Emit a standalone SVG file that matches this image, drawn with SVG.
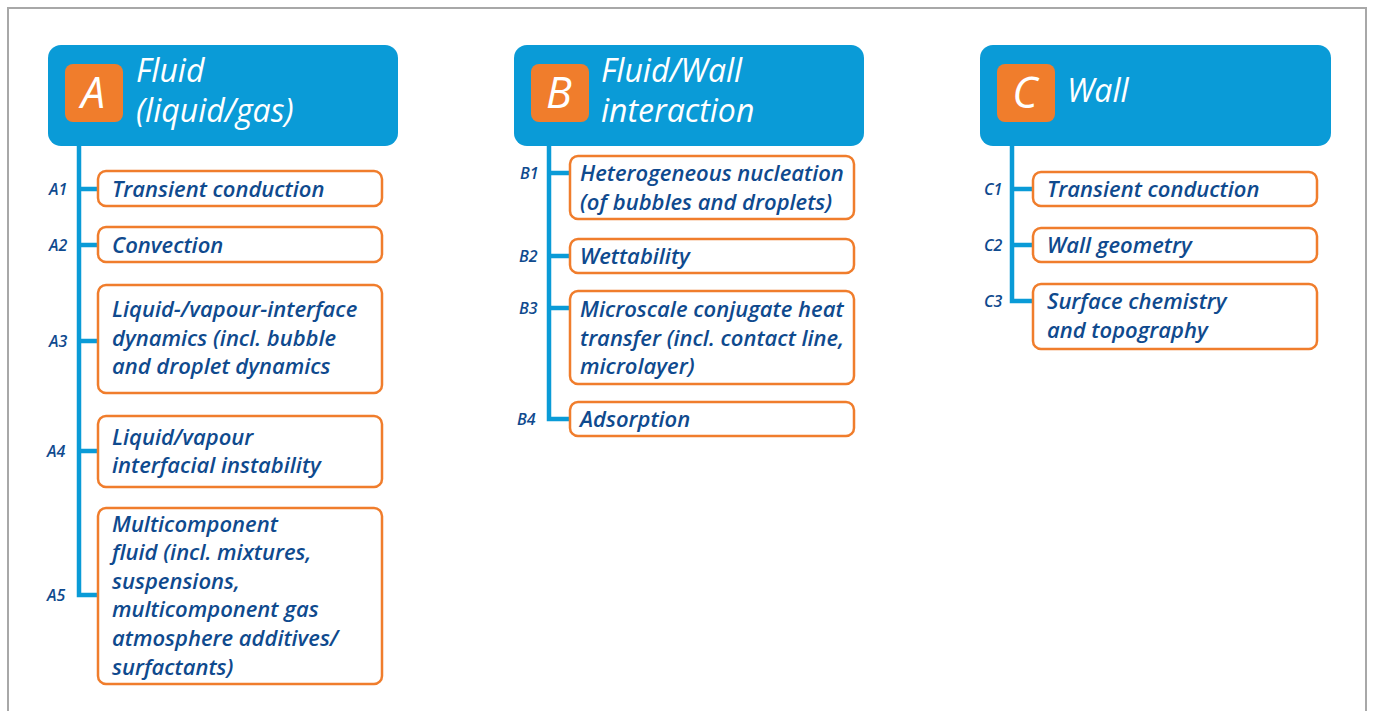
<svg xmlns="http://www.w3.org/2000/svg" width="1373" height="711" viewBox="0 0 1373 711">
  <style>
    .frame { fill: none; stroke: #a8a8a8; stroke-width: 2; }
    .head { fill: #0a9bd7; }
    .badge { fill: #f07d2c; }
    .badge-txt { font-family: "Open Sans", "Liberation Sans", sans-serif; font-style: italic; font-weight: 500; font-size: 43px; fill: #ffffff; text-anchor: middle; }
    .head-txt { font-family: "Open Sans", "Liberation Sans", sans-serif; font-style: italic; font-weight: 500; font-size: 32px; fill: #ffffff; }
    .box { fill: #ffffff; stroke: #f07d2c; stroke-width: 2.5; }
    .box-txt { font-family: "Open Sans", "Liberation Sans", sans-serif; font-style: italic; font-weight: 600; font-size: 22px; fill: #0f4a8e; }
    .tag { font-family: "Open Sans", "Liberation Sans", sans-serif; font-style: italic; font-weight: 600; font-size: 16px; fill: #0f4a8e; }
    .link { fill: none; stroke: #0a9bd7; stroke-width: 4.5; stroke-linejoin: miter; }
  </style>

  <!-- outer frame, open at the bottom -->
  <path class="frame" d="M8,711 V8 H1366 V711"/>

  <!-- tree connectors -->
  <g id="connectors">
    <path class="link" d="M79,145 V595 H100"/>
    <path class="link" d="M79,189 H100 M79,245 H100 M79,341 H100 M79,451 H100"/>
    <path class="link" d="M549,145 V419 H572"/>
    <path class="link" d="M549,173 H572 M549,256 H572 M549,308 H572"/>
    <path class="link" d="M1012,145 V301 H1035"/>
    <path class="link" d="M1012,189 H1035 M1012,245 H1035"/>
  </g>

  <!-- column A -->
  <g id="A">
    <rect class="head" x="48" y="45" width="350" height="101" rx="13"/>
    <rect class="badge" x="65" y="64" width="58" height="58" rx="8"/>
    <text class="badge-txt" x="93" y="108">A</text>
    <text class="head-txt" x="136" y="82">Fluid</text>
    <text class="head-txt" x="136" y="122">(liquid/gas)</text>
  </g>
  <g id="A1">
    <text class="tag" x="49" y="195">A1</text>
    <rect class="box" x="98" y="171" width="284" height="35" rx="8"/>
    <text class="box-txt" x="112" y="197">Transient conduction</text>
  </g>
  <g id="A2">
    <text class="tag" x="49" y="251">A2</text>
    <rect class="box" x="98" y="227" width="284" height="35" rx="8"/>
    <text class="box-txt" x="112" y="253">Convection</text>
  </g>
  <g id="A3">
    <text class="tag" x="49" y="347">A3</text>
    <rect class="box" x="98" y="285" width="284" height="108" rx="8"/>
    <text class="box-txt" x="112" y="317">Liquid-/vapour-interface</text>
    <text class="box-txt" x="112" y="346">dynamics (incl. bubble</text>
    <text class="box-txt" x="112" y="374">and droplet dynamics</text>
  </g>
  <g id="A4">
    <text class="tag" x="47" y="457">A4</text>
    <rect class="box" x="98" y="416" width="284" height="71" rx="8"/>
    <text class="box-txt" x="112" y="445">Liquid/vapour</text>
    <text class="box-txt" x="112" y="473">interfacial instability</text>
  </g>
  <g id="A5">
    <text class="tag" x="47" y="601">A5</text>
    <rect class="box" x="98" y="508" width="284" height="176" rx="8"/>
    <text class="box-txt" x="112" y="532">Multicomponent</text>
    <text class="box-txt" x="112" y="560">fluid (incl. mixtures,</text>
    <text class="box-txt" x="112" y="589">suspensions,</text>
    <text class="box-txt" x="112" y="617">multicomponent gas</text>
    <text class="box-txt" x="112" y="646">atmosphere additives/</text>
    <text class="box-txt" x="112" y="675">surfactants)</text>
  </g>

  <!-- column B -->
  <g id="B">
    <rect class="head" x="514" y="45" width="350" height="101" rx="13"/>
    <rect class="badge" x="531" y="64" width="58" height="58" rx="8"/>
    <text class="badge-txt" x="559" y="108">B</text>
    <text class="head-txt" x="601" y="82">Fluid/Wall</text>
    <text class="head-txt" x="601" y="122">interaction</text>
  </g>
  <g id="B1">
    <text class="tag" x="520" y="179">B1</text>
    <rect class="box" x="570" y="156" width="284" height="63" rx="8"/>
    <text class="box-txt" x="580" y="181">Heterogeneous nucleation</text>
    <text class="box-txt" x="580" y="210">(of bubbles and droplets)</text>
  </g>
  <g id="B2">
    <text class="tag" x="519" y="262">B2</text>
    <rect class="box" x="570" y="239" width="284" height="34" rx="8"/>
    <text class="box-txt" x="580" y="264">Wettability</text>
  </g>
  <g id="B3">
    <text class="tag" x="519" y="314">B3</text>
    <rect class="box" x="570" y="291" width="284" height="93" rx="8"/>
    <text class="box-txt" x="580" y="317">Microscale conjugate heat</text>
    <text class="box-txt" x="580" y="346">transfer (incl. contact line,</text>
    <text class="box-txt" x="580" y="374">microlayer)</text>
  </g>
  <g id="B4">
    <text class="tag" x="517" y="425">B4</text>
    <rect class="box" x="570" y="402" width="284" height="34" rx="8"/>
    <text class="box-txt" x="580" y="427">Adsorption</text>
  </g>

  <!-- column C -->
  <g id="C">
    <rect class="head" x="980" y="45" width="351" height="101" rx="13"/>
    <rect class="badge" x="997" y="64" width="58" height="58" rx="8"/>
    <text class="badge-txt" x="1025" y="108">C</text>
    <text class="head-txt" x="1067" y="102">Wall</text>
  </g>
  <g id="C1">
    <text class="tag" x="984" y="195">C1</text>
    <rect class="box" x="1033" y="172" width="284" height="34" rx="8"/>
    <text class="box-txt" x="1047" y="197">Transient conduction</text>
  </g>
  <g id="C2">
    <text class="tag" x="984" y="251">C2</text>
    <rect class="box" x="1033" y="228" width="284" height="34" rx="8"/>
    <text class="box-txt" x="1047" y="253">Wall geometry</text>
  </g>
  <g id="C3">
    <text class="tag" x="984" y="307">C3</text>
    <rect class="box" x="1033" y="284" width="284" height="65" rx="8"/>
    <text class="box-txt" x="1047" y="309">Surface chemistry</text>
    <text class="box-txt" x="1047" y="338">and topography</text>
  </g>
</svg>
